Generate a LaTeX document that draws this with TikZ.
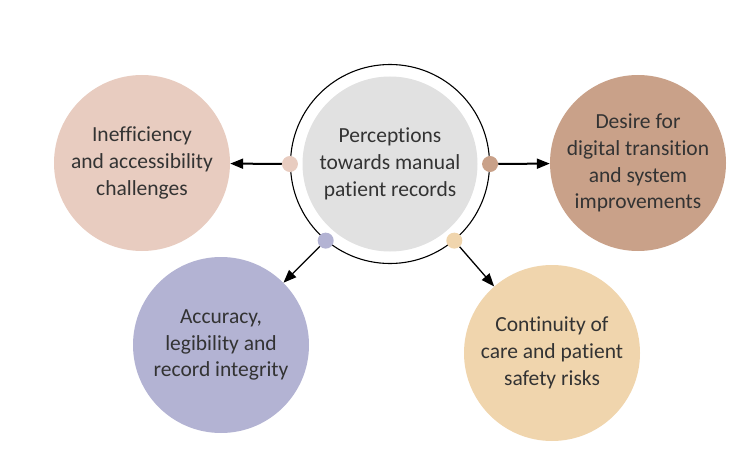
\documentclass[tikz,border=0pt]{standalone}
\usepackage{xcolor}
\usepackage{fontspec}
\setmainfont[Ligatures=NoCommon]{Carlito}
\usepackage{tikz}
\usetikzlibrary{arrows.meta}

\definecolor{hubgray}{HTML}{E1E1E1}
\definecolor{ineffpink}{HTML}{E8CCC0}
\definecolor{digibrown}{HTML}{C9A189}
\definecolor{accuviolet}{HTML}{B3B3D3}
\definecolor{carecream}{HTML}{F0D5AD}
\definecolor{textgray}{HTML}{333333}

\begin{document}
\begin{tikzpicture}[x=1pt, y=-1pt,
    theme/.style={circle, minimum size=176pt, inner sep=0pt, align=center,
        text=textgray, font=\fontsize{21.5}{26.7}\selectfont},
    dot/.style={circle, minimum size=16pt, inner sep=0pt},
    link/.style={-{Triangle[length=13pt, width=10pt]}, line width=1.3pt},
    thicklink/.style={link, line width=2pt}]
    \useasboundingbox (0,0) rectangle (742,460);

    % hub in the middle
    \node[circle, draw, line width=1.1pt, minimum size=199pt] at (390,164) (ring) {};
    \node[theme, fill=hubgray, minimum size=175pt] at (390,164) (hub)
        {Perceptions\\towards manual\\patient records};

    % the four themes
    \node[theme, fill=ineffpink] at (142,163) (ineff)
        {Inefficiency\\and accessibility\\challenges};
    \node[theme, fill=digibrown] at (638,163) (digi)
        {Desire for\\digital transition\\and system\\improvements};
    \node[theme, fill=accuviolet] at (221,345) (accu)
        {Accuracy,\\legibility and\\record integrity};
    \node[theme, fill=carecream] at (552,353) (care)
        {Continuity of\\care and patient\\safety risks};

    % dots on the ring
    \node[dot, fill=ineffpink] at (ring.180) (d1) {};
    \node[dot, fill=digibrown] at (ring.0) (d2) {};
    \node[dot, fill=accuviolet] at (ring.230) (d3) {};
    \node[dot, fill=carecream] at (ring.310) (d4) {};

    \draw[thicklink] (d1) -- (ineff);
    \draw[thicklink] (d2) -- (digi);
    \draw[link] (d3) -- (accu);
    \draw[link] (d4) -- (care);
\end{tikzpicture}
\end{document}
